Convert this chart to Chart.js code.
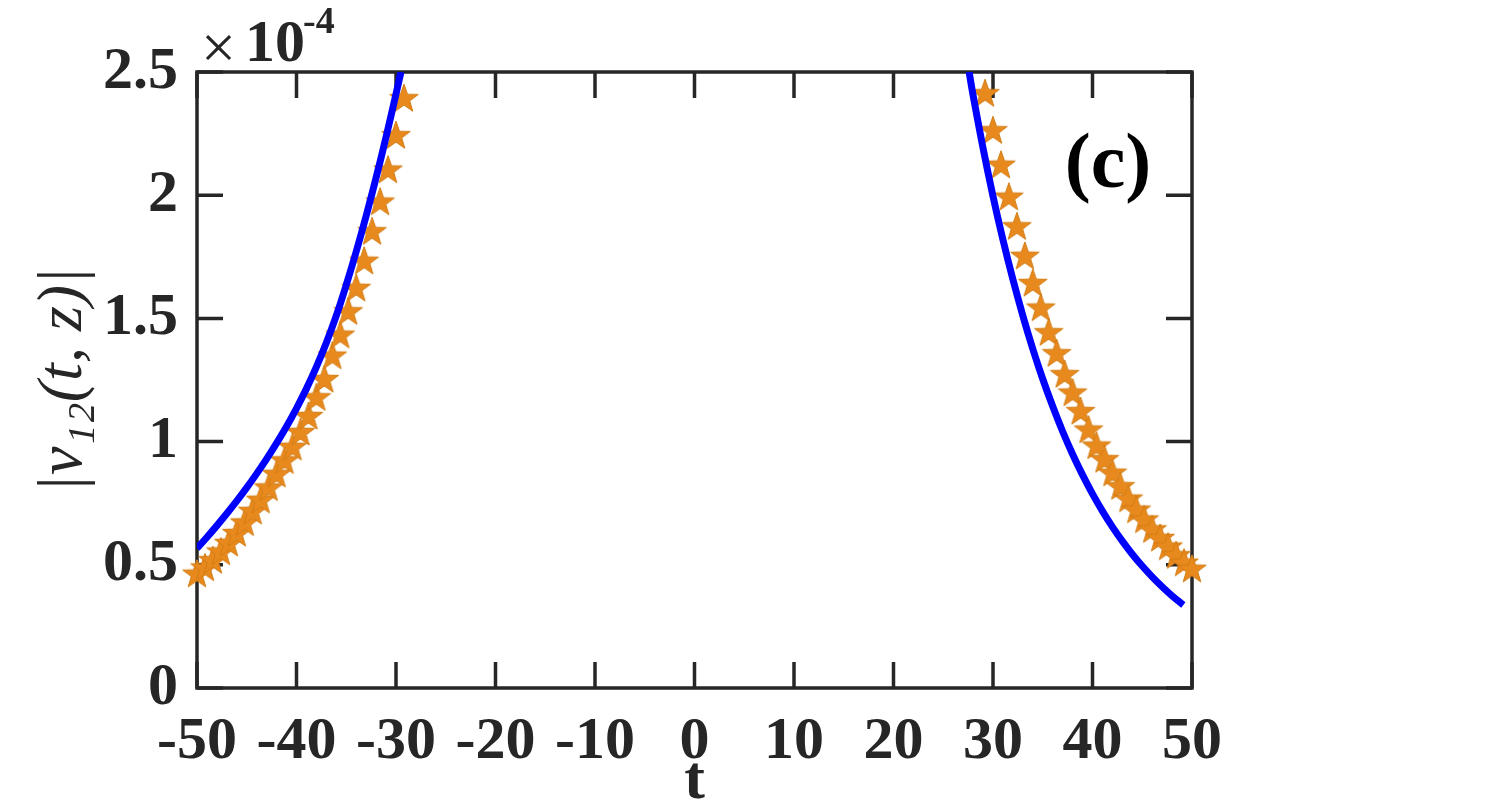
<!DOCTYPE html>
<html>
<head>
<meta charset="utf-8">
<script src="https://cdn.jsdelivr.net/npm/chart.js@4.4.1/dist/chart.umd.min.js"></script>
<style>
  html, body { margin: 0; padding: 0; background: #fff; }
  canvas { display: block; }
</style>
</head>
<body>
<canvas id="chart" width="1511" height="803"></canvas>
<script>
// values in units of 1e-4
const tLineLeft = [-50, -49, -48, -47, -46, -45, -44, -43, -42, -41, -40, -39, -38, -37, -36, -35, -34, -33, -32, -31, -30, -29.5];
const vLineLeft = [0.567, 0.612, 0.659, 0.708, 0.759, 0.813, 0.870, 0.930, 0.994, 1.061, 1.135, 1.215, 1.303, 1.401, 1.511, 1.636, 1.771, 1.916, 2.071, 2.236, 2.411, 2.50];

const tLineRight = [27.6, 28, 29, 30, 31, 32, 33, 34, 35, 36, 37, 38, 39, 40, 41, 42, 43, 44, 45, 46, 47, 48, 49, 49.13];
const vLineRight = [2.50, 2.405, 2.191, 1.996, 1.819, 1.658, 1.511, 1.376, 1.254, 1.143, 1.041, 0.949, 0.865, 0.788, 0.718, 0.654, 0.596, 0.543, 0.495, 0.451, 0.411, 0.374, 0.341, 0.337];

const tStarLeft = [-50, -49.2, -48.4, -47.6, -46.8, -46, -45.2, -44.4, -43.6, -42.8, -42, -41.2, -40.4, -39.6, -38.8, -38, -37.2, -36.4, -35.6, -34.8, -34, -33.2, -32.4, -31.6, -30.8, -30, -29.2];
const vStarLeft = [0.46, 0.485, 0.515, 0.55, 0.585, 0.625, 0.668, 0.715, 0.76, 0.81, 0.865, 0.92, 0.975, 1.035, 1.10, 1.176, 1.25, 1.345, 1.43, 1.525, 1.62, 1.73, 1.85, 1.97, 2.10, 2.24, 2.39];

const tStarRight = [29.2, 30, 30.8, 31.6, 32.4, 33.2, 34, 34.8, 35.6, 36.4, 37.2, 38, 38.8, 39.6, 40.4, 41.2, 42, 42.8, 43.6, 44.4, 45.2, 46, 46.8, 47.6, 48.4, 49.2, 50];
const vStarRight = [2.41, 2.26, 2.12, 1.99, 1.87, 1.75, 1.64, 1.54, 1.44, 1.355, 1.27, 1.195, 1.12, 1.045, 0.98, 0.925, 0.87, 0.815, 0.765, 0.72, 0.68, 0.64, 0.605, 0.57, 0.535, 0.505, 0.48];

const xTicks = [-50, -40, -30, -20, -10, 0, 10, 20, 30, 40, 50];
const yTicks = [0, 0.5, 1, 1.5, 2, 2.5];

const INK = '#262626';
const SERIF = "'Liberation Serif', 'Times New Roman', serif";

function pts(ts, vs) {
  return ts.map((t, i) => ({ x: t, y: vs[i] }));
}

// filled five-point star marker
function makeStar(r) {
  const s = Math.ceil(2 * r + 4);
  const c = document.createElement('canvas');
  c.width = s; c.height = s;
  const g = c.getContext('2d');
  g.translate(s / 2, s / 2);
  g.beginPath();
  for (let k = 0; k < 10; k++) {
    const rad = k % 2 === 0 ? r : r * 0.4;
    const a = -Math.PI / 2 + k * Math.PI / 5;
    g.lineTo(rad * Math.cos(a), rad * Math.sin(a));
  }
  g.closePath();
  g.fillStyle = '#E8891E';
  g.fill();
  g.strokeStyle = '#D27C12';
  g.lineWidth = 1;
  g.stroke();
  return c;
}
const star = makeStar(15);

const frame = {
  id: 'frame',
  beforeDatasetsDraw(chart) {
    const { ctx, chartArea: a, scales: { x, y } } = chart;
    const L = 26;
    ctx.save();
    ctx.strokeStyle = INK;
    ctx.lineWidth = 3.5;
    ctx.strokeRect(a.left, a.top, a.right - a.left, a.bottom - a.top);
    ctx.beginPath();
    x.ticks.forEach(t => {
      const px = x.getPixelForValue(t.value);
      ctx.moveTo(px, a.bottom); ctx.lineTo(px, a.bottom - L);
      ctx.moveTo(px, a.top); ctx.lineTo(px, a.top + L);
    });
    y.ticks.forEach(t => {
      const py = y.getPixelForValue(t.value);
      ctx.moveTo(a.left, py); ctx.lineTo(a.left + L, py);
      ctx.moveTo(a.right, py); ctx.lineTo(a.right - L, py);
    });
    ctx.stroke();
    ctx.restore();
  },
  afterDraw(chart) {
    const { ctx } = chart;
    ctx.save();
    ctx.fillStyle = INK;
    ctx.textBaseline = 'alphabetic';
    ctx.font = '62px ' + SERIF;
    ctx.fillText('\u00D7', 201, 68);
    ctx.font = 'bold 60px ' + SERIF;
    ctx.fillText('10', 245, 61);
    ctx.font = 'bold 38px ' + SERIF;
    ctx.fillText('-4', 303, 33);
    ctx.fillStyle = '#000';
    ctx.font = 'bold 78px ' + SERIF;
    ctx.textAlign = 'center';
    ctx.fillText('(c)', 1108, 187);
    ctx.restore();
  }
};

const blueLine = {
  type: 'line', borderColor: '#0000FF', borderWidth: 7,
  pointRadius: 0, fill: false, tension: 0.4, borderCapStyle: 'butt'
};

new Chart(document.getElementById('chart').getContext('2d'), {
  type: 'scatter',
  data: {
    datasets: [
      Object.assign({ data: pts(tLineLeft, vLineLeft) }, blueLine),
      Object.assign({ data: pts(tLineRight, vLineRight) }, blueLine),
      {
        data: pts(tStarLeft, vStarLeft),
        pointStyle: star, pointRadius: 15, clip: false
      },
      {
        data: pts(tStarRight, vStarRight),
        pointStyle: star, pointRadius: 15, clip: false
      }
    ]
  },
  options: {
    responsive: false,
    animation: false,
    layout: { padding: { left: 0, top: 72, right: 319, bottom: 0 } },
    plugins: { legend: { display: false }, tooltip: { enabled: false } },
    scales: {
      x: {
        type: 'linear', min: -50, max: 50,
        afterBuildTicks: s => { s.ticks = xTicks.map(v => ({ value: v })); },
        afterFit: s => { s.height = 115; },
        grid: { display: false, drawTicks: false },
        border: { display: false },
        ticks: {
          color: INK, padding: 18, maxRotation: 0, autoSkip: false,
          callback: v => String(v),
          font: { family: SERIF, size: 60, weight: 'bold' }
        },
        title: {
          display: true, text: 't', color: INK,
          padding: { top: 0, bottom: -10 },
          font: { family: SERIF, size: 62, weight: 'bold', lineHeight: 1 }
        }
      },
      y: {
        type: 'linear', min: 0, max: 2.5,
        afterBuildTicks: s => { s.ticks = yTicks.map(v => ({ value: v })); },
        afterFit: s => { s.width = 197; },
        grid: { display: false, drawTicks: false },
        border: { display: false },
        ticks: {
          color: INK, padding: 19,
          callback: v => String(v),
          font: { family: SERIF, size: 60, weight: 'bold' }
        },
        title: {
          display: true, text: '|v\u2081\u2082(t, z)|', color: INK,
          padding: { top: 26, bottom: 0 },
          font: { family: SERIF, size: 64, style: 'italic', lineHeight: 1.2 }
        }
      }
    }
  },
  plugins: [frame]
});
</script>
</body>
</html>
